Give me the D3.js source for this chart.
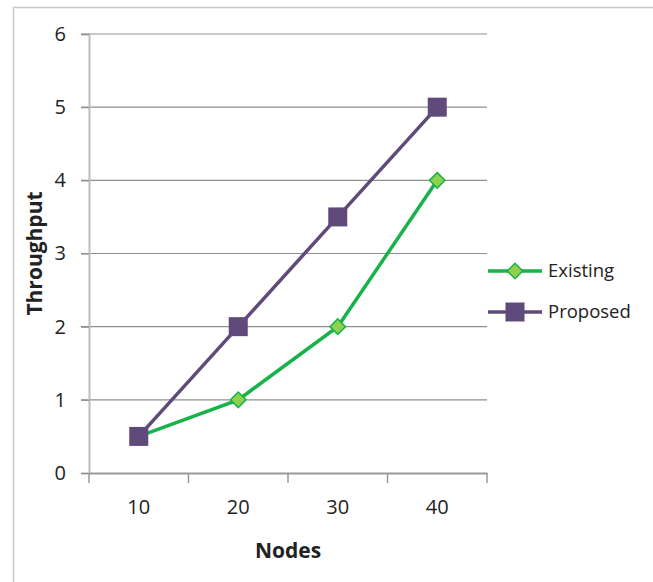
<!DOCTYPE html>
<meta charset="utf-8">
<script src="https://cdn.jsdelivr.net/npm/d3@7"></script>
<style>
  body { margin: 0; background: #fff; }
  text { font-family: "Open Sans", "Liberation Sans", sans-serif; fill: #222; }
</style>
<div id="my_dataviz"></div>
<script>

// data
var nodes = ["10", "20", "30", "40"];
var existing = [0.5, 1, 2, 4];
var proposed = [0.5, 2, 3.5, 5];
var yTicks = [0, 1, 2, 3, 4, 5, 6];

var W = 653, H = 582;
var margin = {top: 34, left: 89, right: 166, bottom: 109};
var width = W - margin.left - margin.right,
    height = H - margin.top - margin.bottom;

var svg = d3.select("#my_dataviz")
  .append("svg")
    .attr("width", W)
    .attr("height", H);

// outer frame
svg.append("rect")
  .attr("x", 13.5).attr("y", 7.5)
  .attr("width", W).attr("height", H)
  .attr("fill", "none")
  .attr("stroke", "#c8c8c8")
  .attr("stroke-width", 1.5);

var g = svg.append("g")
  .attr("transform", "translate(" + margin.left + "," + margin.top + ")");

var x = d3.scaleBand()
  .domain(nodes)
  .range([0, width]);

var y = d3.scaleLinear()
  .domain([0, 6])
  .range([height, 0]);

// gridlines
g.selectAll("grid")
  .data(yTicks.filter(d => d > 0))
  .enter()
  .append("line")
    .attr("x1", -8)
    .attr("x2", width)
    .attr("y1", d => y(d))
    .attr("y2", d => y(d))
    .attr("stroke", "#8f8f8f")
    .attr("stroke-width", 1.2);

// y axis
var yAxis = g.append("g")
  .call(d3.axisLeft(y).tickValues(yTicks).tickFormat(d3.format("d")).tickSize(8).tickPadding(15));
yAxis.select(".domain").attr("stroke", "#bdbdbd").attr("stroke-width", 2);
yAxis.selectAll(".tick line").attr("stroke", "#8f8f8f").attr("stroke-width", 1.2);
yAxis.selectAll(".tick text").attr("font-size", 20).style("font-family", "Open Sans, sans-serif").attr("fill", "#222");

// x axis
var xAxis = g.append("g")
  .attr("transform", "translate(0," + height + ")")
  .call(d3.axisBottom(x).tickSize(0).tickPadding(27));
xAxis.select(".domain").attr("stroke", "#999").attr("stroke-width", 2);
xAxis.selectAll(".tick text").attr("font-size", 20).style("font-family", "Open Sans, sans-serif").attr("fill", "#222");

// x tick marks at band edges
g.selectAll("xticks")
  .data(nodes.concat(["end"]))
  .enter()
  .append("line")
    .attr("x1", (d, i) => i * x.step())
    .attr("x2", (d, i) => i * x.step())
    .attr("y1", height)
    .attr("y2", height + 10)
    .attr("stroke", "#999")
    .attr("stroke-width", 1.5);

// axis titles
svg.append("text")
  .attr("x", margin.left + width / 2)
  .attr("y", 558)
  .attr("text-anchor", "middle")
  .attr("font-size", 21)
  .attr("font-weight", "bold")
  .text("Nodes");

svg.append("text")
  .attr("transform", "translate(42," + (margin.top + height / 2) + ") rotate(-90)")
  .attr("text-anchor", "middle")
  .attr("font-size", 21)
  .attr("font-weight", "bold")
  .text("Throughput");

var cx = d => x(d) + x.bandwidth() / 2;
var line = d3.line().x(d => cx(d[0])).y(d => y(d[1]));

var greenLine = "#17b34a", greenFill = "#8fd14f";
var purple = "#604a7b";

// existing
g.append("path")
  .datum(nodes.map((n, i) => [n, existing[i]]))
  .attr("d", line)
  .attr("fill", "none")
  .attr("stroke", greenLine)
  .attr("stroke-width", 3.5);

// proposed
g.append("path")
  .datum(nodes.map((n, i) => [n, proposed[i]]))
  .attr("d", line)
  .attr("fill", "none")
  .attr("stroke", purple)
  .attr("stroke-width", 3.5);

var diamond = d3.symbol().type(d3.symbolSquare).size(120);
g.selectAll("exPoints")
  .data(nodes.map((n, i) => [n, existing[i]]))
  .enter()
  .append("path")
    .attr("d", diamond)
    .attr("transform", d => "translate(" + cx(d[0]) + "," + y(d[1]) + ") rotate(45)")
    .attr("fill", greenFill)
    .attr("stroke", greenLine)
    .attr("stroke-width", 1.5);

var sq = 19;
g.selectAll("prPoints")
  .data(nodes.map((n, i) => [n, proposed[i]]))
  .enter()
  .append("rect")
    .attr("x", d => cx(d[0]) - sq / 2)
    .attr("y", d => y(d[1]) - sq / 2)
    .attr("width", sq)
    .attr("height", sq)
    .attr("fill", purple);

// legend
var legend = [
  {name: "Existing", color: greenLine, y: 271},
  {name: "Proposed", color: purple, y: 312}
];
var lg = svg.selectAll("legend")
  .data(legend)
  .enter()
  .append("g")
    .attr("transform", d => "translate(488," + d.y + ")");
lg.append("line")
  .attr("x1", 0).attr("x2", 54)
  .attr("stroke", d => d.color)
  .attr("stroke-width", 3.5);
lg.filter((d, i) => i == 0).append("path")
  .attr("d", diamond)
  .attr("transform", "translate(27,0) rotate(45)")
  .attr("fill", greenFill)
  .attr("stroke", greenLine)
  .attr("stroke-width", 1.5);
lg.filter((d, i) => i == 1).append("rect")
  .attr("x", 27 - sq / 2).attr("y", -sq / 2)
  .attr("width", sq).attr("height", sq)
  .attr("fill", purple);
lg.append("text")
  .attr("x", 60)
  .attr("dy", "0.35em")
  .attr("font-size", 18.5)
  .text(d => d.name);

</script>
